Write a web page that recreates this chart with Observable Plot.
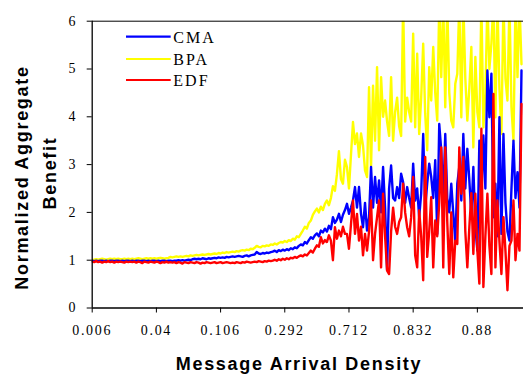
<!DOCTYPE html>
<html>
<head>
<meta charset="utf-8">
<script src="https://cdn.jsdelivr.net/npm/d3@7"></script>
<script src="https://cdn.jsdelivr.net/npm/@observablehq/plot@0.6"></script>
<style>
  html, body { margin: 0; padding: 0; background: #fff; }
</style>
</head>
<body>
<div id="chart"></div>
<script>
// ---- Data ----
const tickLabels = ["0.006", "0.04", "0.106", "0.292", "0.712", "0.832", "0.88"];
const tickStep = 32; // one category label every 32 samples
const yTicks = [0, 1, 2, 3, 4, 5, 6];
const seriesNames = ["CMA", "BPA", "EDF"];
const seriesColors = ["#0000ff", "#ffff00", "#ff0000"];

const cma = [
  0.99,0.98,0.99,0.98,0.99,0.99,0.98,0.99,0.98,0.99,
  0.99,0.98,0.99,0.99,0.98,0.99,0.98,0.99,0.99,0.98,
  0.99,0.98,0.99,0.99,0.98,0.99,0.99,0.98,0.99,0.98,
  0.99,0.99,0.98,0.99,0.98,0.99,0.99,0.98,0.99,0.99,
  0.98,0.99,0.99,1.00,0.99,1.00,0.99,1.00,1.01,1.00,
  1.02,1.03,1.02,1.03,1.02,1.04,1.03,1.02,1.04,1.03,
  1.04,1.05,1.04,1.06,1.05,1.06,1.05,1.07,1.06,1.07,
  1.08,1.07,1.08,1.09,1.08,1.07,1.09,1.10,1.08,1.10,
  1.11,1.12,1.17,1.14,1.13,1.15,1.14,1.16,1.15,1.17,
  1.18,1.20,1.17,1.21,1.19,1.22,1.20,1.23,1.21,1.25,
  1.23,1.27,1.25,1.30,1.33,1.31,1.38,1.35,1.42,1.48,
  1.45,1.52,1.56,1.50,1.62,1.58,1.66,1.60,1.72,1.65,
  1.90,1.78,1.85,1.97,1.80,1.95,2.05,2.18,1.97,2.10,
  2.25,2.53,2.10,2.53,1.97,1.69,2.20,1.62,1.90,2.95,
  2.10,2.74,2.20,2.67,2.00,2.95,2.10,0.80,2.50,2.98,
  2.30,2.25,2.53,2.30,2.81,2.63,2.20,2.53,2.30,2.10,
  3.02,2.25,2.50,1.90,2.40,3.64,2.10,2.60,3.02,2.74,
  2.30,3.09,1.55,3.85,3.30,2.30,3.64,2.30,2.00,2.60,
  1.97,1.41,2.60,2.95,2.25,3.64,2.50,3.33,2.67,1.94,
  2.95,1.69,1.20,3.50,2.30,3.61,2.50,4.97,3.99,4.90,
  1.90,2.60,1.50,3.99,1.55,3.64,2.20,1.60,1.41,2.50,
  3.50,2.30,2.84,2.10,4.97
];

const bpa = [
  1.00,1.01,1.02,1.01,1.02,1.03,1.02,1.01,1.02,1.03,
  1.02,1.03,1.02,1.03,1.02,1.02,1.03,1.02,1.03,1.02,
  1.03,1.02,1.03,1.04,1.03,1.02,1.03,1.04,1.03,1.04,
  1.03,1.04,1.03,1.04,1.05,1.04,1.03,1.04,1.05,1.07,
  1.06,1.07,1.08,1.07,1.08,1.07,1.08,1.09,1.08,1.10,
  1.09,1.10,1.11,1.10,1.11,1.12,1.11,1.12,1.13,1.12,
  1.13,1.14,1.13,1.15,1.14,1.16,1.15,1.17,1.16,1.17,
  1.18,1.17,1.19,1.18,1.20,1.21,1.20,1.22,1.21,1.24,
  1.23,1.26,1.30,1.28,1.27,1.30,1.29,1.31,1.30,1.33,
  1.32,1.35,1.33,1.36,1.38,1.37,1.40,1.38,1.42,1.40,
  1.45,1.43,1.50,1.48,1.55,1.62,1.70,1.66,1.78,1.83,
  1.95,2.02,2.08,2.00,2.12,2.05,2.18,2.25,2.15,2.30,
  2.55,2.45,2.80,3.28,2.70,2.60,3.10,2.95,2.50,3.20,
  3.89,3.43,3.65,3.16,3.65,3.40,2.88,2.74,4.62,2.95,
  4.65,3.50,5.04,3.30,4.83,4.00,4.34,3.90,3.60,4.83,
  3.50,4.10,4.40,3.80,3.60,6.40,3.90,4.40,4.10,3.90,
  5.74,3.78,5.32,3.64,4.40,5.53,4.06,3.30,5.04,4.34,
  5.46,4.50,3.92,6.40,4.83,6.40,4.20,6.40,4.50,3.92,
  3.78,4.69,4.90,6.40,3.99,6.40,4.80,3.92,4.60,5.46,
  3.36,5.25,4.10,3.78,6.40,3.78,4.48,6.40,5.00,5.53,
  6.40,3.99,6.40,4.60,3.64,6.40,4.80,4.34,6.40,4.20,
  3.50,6.40,4.83,6.40,5.10
];

const edf = [
  0.97,0.96,0.98,0.96,0.97,0.95,0.97,0.96,0.98,0.96,
  0.97,0.95,0.97,0.96,0.97,0.96,0.95,0.97,0.96,0.97,
  0.96,0.97,0.95,0.97,0.96,0.94,0.97,0.96,0.95,0.97,
  0.96,0.95,0.97,0.96,0.94,0.96,0.95,0.97,0.95,0.96,
  0.95,0.96,0.94,0.96,0.95,0.93,0.96,0.95,0.94,0.96,
  0.95,0.94,0.96,0.95,0.93,0.95,0.94,0.96,0.95,0.94,
  0.95,0.96,0.94,0.95,0.96,0.94,0.95,0.96,0.95,0.94,
  0.95,0.94,0.96,0.95,0.94,0.96,0.95,0.97,0.96,0.95,
  0.96,0.97,0.96,0.98,0.97,0.96,0.98,0.97,0.99,0.98,
  0.99,1.01,0.99,1.02,1.00,1.03,1.01,1.04,1.02,1.05,
  1.04,1.07,1.05,1.08,1.10,1.08,1.12,1.10,1.15,1.20,
  1.16,1.24,1.31,1.28,1.48,1.35,1.42,1.38,1.52,1.41,
  1.00,1.69,1.45,1.62,1.50,1.70,1.55,1.55,1.24,1.75,
  2.25,1.55,1.97,1.41,1.70,1.10,1.55,1.20,1.60,2.25,
  1.00,1.55,1.90,2.25,0.85,2.39,1.50,0.78,0.71,1.60,
  2.10,1.70,1.55,1.80,1.90,2.60,2.00,1.69,1.50,1.90,
  2.74,1.10,0.85,2.04,1.50,0.58,3.16,1.07,1.60,2.32,
  0.85,1.83,1.50,2.20,3.36,0.85,3.36,1.80,0.71,2.00,
  0.64,1.41,1.34,3.36,2.39,3.16,1.60,0.85,1.69,2.40,
  1.13,2.39,1.20,0.51,3.75,0.44,1.50,2.39,1.30,0.71,
  4.48,0.85,2.25,1.40,0.71,1.90,1.20,0.37,1.30,1.41,
  2.25,1.00,1.55,1.20,4.27
];

// ---- Chart ----
const serifFont = "'Liberation Serif', 'Times New Roman', serif";
const sansFont = "'Liberation Sans', Arial, sans-serif";
const lineWidth = 2.4;

const lineMark = (vals, color) =>
  Plot.lineY(vals, {x: (d, i) => i, y: d => d, stroke: color, strokeWidth: lineWidth, clip: true});

const chart = Plot.plot({
  width: 523,
  height: 377,
  marginLeft: 91.7,
  marginRight: 0,
  marginTop: 20.7,
  marginBottom: 69.5,
  style: {fontFamily: serifFont, fontSize: "14px", background: "#fff", color: "#000", overflow: "visible"},
  x: {type: "linear", domain: [0, 215], label: null},
  y: {domain: [0, 6], label: null},
  marks: [
    // draw order: BPA (yellow), CMA (blue), EDF (red) on top
    lineMark(bpa, seriesColors[1]),
    lineMark(cma, seriesColors[0]),
    lineMark(edf, seriesColors[2]),
    Plot.ruleY([6], {stroke: "#000", strokeWidth: 1}),
    Plot.axisY({ticks: yTicks, tickSize: 5, tickPadding: 10, tickFormat: d => String(d), label: null, fontSize: 14, fontFamily: serifFont}),
    Plot.axisX({ticks: tickLabels.map((_, k) => k * tickStep), tickSize: 5, tickPadding: 12,
      tickFormat: d => tickLabels[Math.round(d / tickStep)], label: null, fontSize: 14, fontFamily: serifFont}),
    Plot.ruleX([0], {stroke: "#000", strokeWidth: 1.3}),
    Plot.ruleY([0], {stroke: "#000", strokeWidth: 1.3})
  ]
});

const svg = d3.select(chart);
svg.selectAll("text").style("letter-spacing", "1.7px");

// Axis titles
svg.append("text")
  .attr("x", 299).attr("y", 369.5)
  .attr("text-anchor", "middle")
  .style("font-family", sansFont).style("font-weight", "bold").style("font-size", "18px")
  .style("letter-spacing", "1.7px")
  .text("Message Arrival Density");

const yTitle = [["Normalized Aggregate", 27.5, 177.5], ["Benefit", 56, 173]];
yTitle.forEach(([t, bx, cy]) => {
  svg.append("text")
    .attr("transform", `translate(${bx},${cy}) rotate(-90)`)
    .attr("text-anchor", "middle")
    .style("font-family", sansFont).style("font-weight", "bold").style("font-size", "18px")
    .style("letter-spacing", "1.7px")
    .text(t);
});

// Legend (inside plot area, top-left)
const legend = svg.append("g");
const legendY = [36.7, 59, 80];
seriesNames.forEach((name, k) => {
  legend.append("line")
    .attr("x1", 126).attr("x2", 170.7)
    .attr("y1", legendY[k]).attr("y2", legendY[k])
    .attr("stroke", seriesColors[k]).attr("stroke-width", 2.2);
  legend.append("text")
    .attr("x", 173.3).attr("y", legendY[k] + 6)
    .attr("text-anchor", "start")
    .style("font-family", serifFont).style("font-size", "16px")
    .style("letter-spacing", "2px")
    .text(name);
});

document.getElementById("chart").appendChild(chart);
</script>
</body>
</html>
